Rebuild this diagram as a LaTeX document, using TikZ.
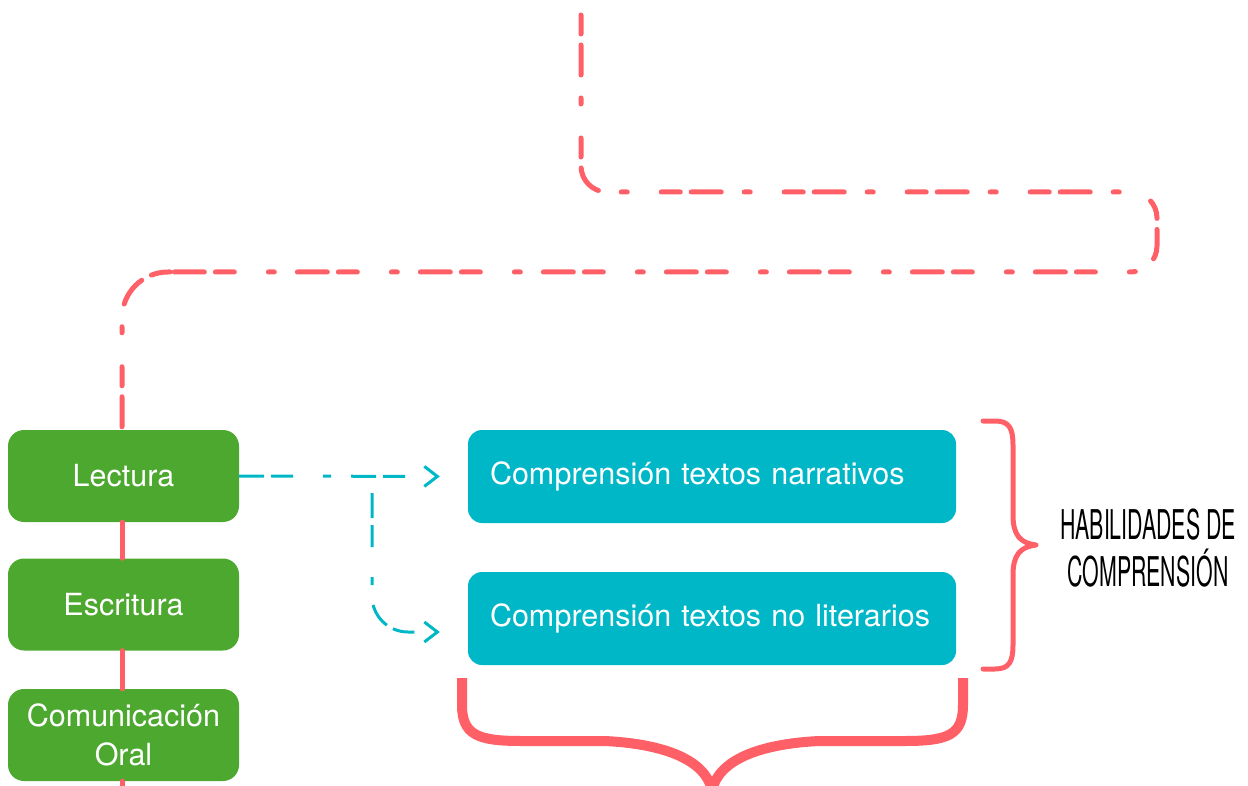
\documentclass[tikz,border=0pt]{standalone}
\usepackage{fontspec}
\setmainfont{TeX Gyre Heros}
\usetikzlibrary{arrows.meta,calc}
\definecolor{myred}{HTML}{FF5F66}
\definecolor{mygreen}{HTML}{4DA830}
\definecolor{mycyan}{HTML}{00B7C7}
\tikzset{
  gbox/.style={fill=mygreen, rounded corners=16pt, minimum width=231pt, minimum height=92pt,
    text=white, font=\fontsize{30.5}{39}\selectfont, align=center, inner sep=0pt},
  cbox/.style={fill=mycyan, rounded corners=14pt, minimum height=93pt, text width=444pt,
    inner xsep=22pt, inner ysep=0pt, align=left, text=white, font=\fontsize{30.5}{36}\selectfont},
  reddash/.style={draw=myred, line width=5pt, line cap=round,
    dash pattern=on 19pt off 11pt on 30pt off 23pt on 6pt off 34pt},
  redline/.style={draw=myred, line width=5pt, line cap=round},
  cyanarrow/.style={draw=mycyan, line width=3pt,
    dash pattern=on 25pt off 7pt on 22pt off 30pt on 8pt off 20pt,
    -{Straight Barb[length=13pt,width=20pt,line width=3pt]}},
  hand/.style={align=center, font=\fontsize{41}{47}\selectfont, text=black, inner sep=0pt},
  brace/.style={draw=myred, line cap=round, line join=round}
}
\begin{document}
\begin{tikzpicture}[x=1pt,y=-1pt]
\useasboundingbox (0,0) rectangle (1248,786);
\clip (0,0) rectangle (1248,786);
% nodes
\node[gbox] (lec) at (123.5,476) {Lectura};
\node[gbox] (esc) at (123.5,604.5) {Escritura};
\node[gbox] (com) at (123.5,735) {Comunicación\\Oral};
\node[cbox] (cb1) at (712,476.5) {Comprensión textos narrativos};
\node[cbox] (cb2) at (712,618.5) {Comprensión textos no literarios};
\node[hand] (hab) at (1148,548) {\scalebox{0.52}[1]{HABILIDADES DE}\\\scalebox{0.52}[1]{COMPRENSIÓN}};
\coordinate (top) at (581,15);
\coordinate (bot) at (123.5,790);
\coordinate (split) at (372,493);
% red connectors
\draw[reddash, rounded corners=26pt] (top) -- (581,192) -- (1157,192) -- (1157,272) -- (160,272);
\draw[reddash, rounded corners=46pt] (170,272) -- (122,272) -- (lec.north -| 122,0);
\draw[redline] (lec.south -| 122,0) -- (esc.north -| 122,0);
\draw[redline] (esc.south -| 122,0) -- (com.north -| 122,0);
\draw[redline] (com.south -| 122,0) -- (bot -| 122,0);
% cyan arrows
\draw[cyanarrow, shorten >=28pt] (lec.east) -- (cb1.west);
\draw[cyanarrow, rounded corners=36pt, shorten >=28pt] (split) |- ([yshift=-13.5pt]cb2.west);
% right brace
\draw[brace, line width=5pt] (983,421) -- (995,421) .. controls (1009,421) and (1013,428) .. (1013,445)
  -- (1013,515) .. controls (1013,535) and (1020,543) .. (1036,545)
  .. controls (1020,547) and (1013,555) .. (1013,575)
  -- (1013,645) .. controls (1013,662) and (1009,669) .. (995,669) -- (983,669);
% bottom brace
\draw[brace, line width=10pt, line cap=butt] (462,678) -- (462,705) .. controls (462,735) and (478,741) .. (521,741)
  -- (605,741) .. controls (665,744) and (705,760) .. (712,790)
  .. controls (719,760) and (759,744) .. (819,741)
  -- (905,741) .. controls (948,741) and (963,735) .. (963,705) -- (963,678);
\end{tikzpicture}
\end{document}
